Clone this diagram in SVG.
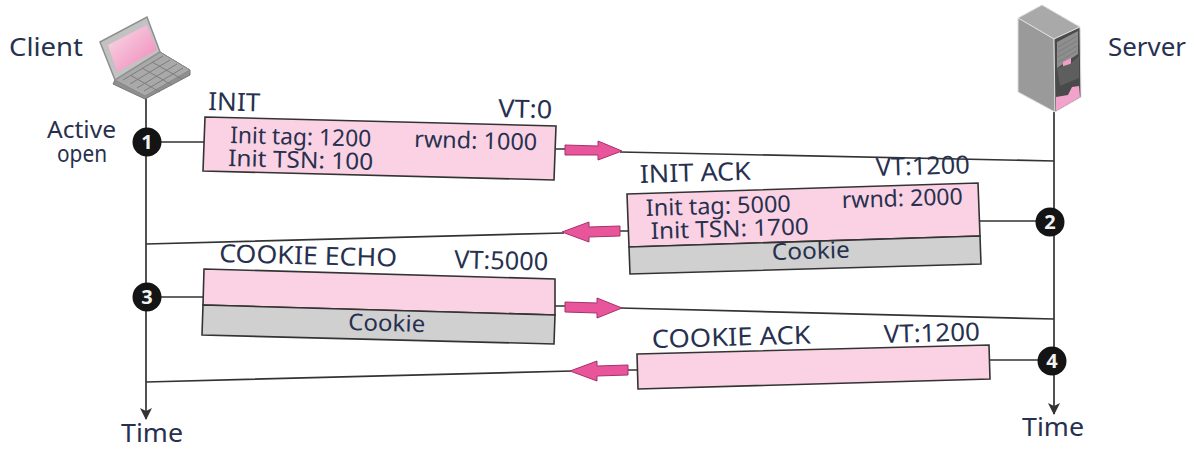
<svg xmlns="http://www.w3.org/2000/svg" width="1198" height="449" viewBox="0 0 1198 449">
<defs>
<linearGradient id="scr" x1="0" y1="0" x2="1" y2="1"><stop offset="0" stop-color="#fbdcea"/><stop offset="1" stop-color="#ee86b6"/></linearGradient>
<marker id="tip" markerWidth="12" markerHeight="18" refX="11" refY="9" orient="auto" markerUnits="userSpaceOnUse"><path d="M0 3 L12 9 L0 15 L3 9 Z" fill="#333"/></marker>
</defs>
<style>
text{font-family:"Noto Sans","Open Sans","Liberation Sans",sans-serif;fill:#27314f}
.lb{font-size:26px}
.md{font-size:25px}
.sm{font-size:23px}
.ln{stroke:#333;stroke-width:1.7;fill:none}
.pk{fill:#fad2e4;stroke:#333;stroke-width:1.6}
.gy{fill:#d0d0d0;stroke:#333;stroke-width:1.6}
.ar{fill:#e8559b;stroke:#a5326b;stroke-width:1}
.dot{fill:#141414}
.num{font-size:20px;font-weight:700;fill:#f2f2f2;text-anchor:middle}
.key{stroke:#7d7d7d;stroke-width:1;fill:none}
</style>
<rect width="1198" height="449" fill="#fff"/>
<g id="connectors">
<path class="ln" d="M146 98V419" marker-end="url(#tip)"/>
<path class="ln" d="M1054 112V414" marker-end="url(#tip)"/>
<path class="ln" d="M146 142H205M556 149H566M620 152L1054 161"/>
<path class="ln" d="M1054 221H978M628 231H618M564 233L146 244"/>
<path class="ln" d="M146 297H204M555 306H566M620 308L1054 319"/>
<path class="ln" d="M1054 360H989M637 370H627M572 371L146 382"/>
<path class="ar" d="M565 145L598 146L598 141L622 151L598 160L598 155L565 155Z"/>
<path class="ar" d="M620 226L589 227L589 222L562 232L589 242L589 237L620 236Z"/>
<path class="ar" d="M565 302L597 303L597 298L622 308L597 318L597 313L565 312Z"/>
<path class="ar" d="M628 365L597 366L597 361L570 371L597 381L597 376L628 375Z"/>
</g>
<g id="client">
<path d="M115 80L160 52L190 70L190 75L145 99L113 84Z" fill="#8f8f8f" stroke="#777"/>
<path d="M115 80L160 52L190 70L145 96Z" fill="#a9a9a9" stroke="#888"/>
<path class="key" d="M123 80L163 56M130 84L170 60M137 88L177 64M144 91L183 68M130 75L160 92M142 68L172 85M152 62L182 79"/>
<path d="M100 42L147 17L160 52L115 80Z" fill="#c2c2c2" stroke="#8f8f8f" stroke-width="1.5"/>
<path d="M108 45L147 25L157 50L117 72Z" fill="url(#scr)"/>
<text class="lb" x="9" y="56" textLength="74" lengthAdjust="spacingAndGlyphs">Client</text>
</g>
<g id="server">
<path d="M1018 18L1042 5L1080 27L1054 39Z" fill="#a9a9a9" stroke="#ddd"/>
<path d="M1018 18L1054 39L1055 112L1018 92Z" fill="#9a9a9a" stroke="#ddd"/>
<path d="M1054 39L1080 27L1081 97L1055 112Z" fill="#4a4a4a" stroke="#ddd"/>
<path d="M1057 42L1078 31L1078 54L1057 68Z" fill="#8e8e8e"/>
<path class="key" d="M1058 47L1077 36M1058 52L1077 41M1058 57L1077 46M1058 62L1077 51"/>
<path d="M1063 62L1071 58L1071 67L1063 71Z" fill="#f0a0c8"/>
<path d="M1057 68L1070 64L1079 56L1079 78L1060 86Z" fill="#5e5e5e"/>
<path d="M1056 102V97L1068 95L1072 87L1079 86L1080 97L1056 111Z" fill="#f3a3cb"/>
<text class="lb" x="1108" y="56" textLength="78" lengthAdjust="spacingAndGlyphs">Server</text>
</g>
<g id="active-open">
<text class="sm" x="47" y="138" textLength="69" lengthAdjust="spacingAndGlyphs">Active</text>
<text class="sm" x="57" y="162" textLength="50" lengthAdjust="spacingAndGlyphs">open</text>
</g>
<g id="step1"><circle class="dot" cx="147" cy="142" r="14.5"/><text class="num" x="147" y="149">1</text></g>
<g id="step2"><circle class="dot" cx="1050" cy="222" r="14.5"/><text class="num" x="1050" y="229">2</text></g>
<g id="step3"><circle class="dot" cx="147" cy="297" r="14.5"/><text class="num" x="147" y="304">3</text></g>
<g id="step4"><circle class="dot" cx="1052" cy="361" r="14.5"/><text class="num" x="1052" y="368">4</text></g>
<g id="init">
<path class="pk" d="M205 117L556 126L554 180L203 171Z"/>
<text class="md" x="208" y="110" transform="rotate(1.5 208 110)" textLength="52" lengthAdjust="spacingAndGlyphs">INIT</text>
<text class="md" x="498" y="117" transform="rotate(1.5 498 117)" textLength="54" lengthAdjust="spacingAndGlyphs">VT:0</text>
<text class="sm" x="230" y="143" transform="rotate(1.5 230 143)" textLength="141" lengthAdjust="spacingAndGlyphs">Init tag: 1200</text>
<text class="sm" x="228" y="166" transform="rotate(1.5 228 166)" textLength="145" lengthAdjust="spacingAndGlyphs">Init TSN: 100</text>
<text class="sm" x="414" y="147" transform="rotate(1.5 414 147)" textLength="123" lengthAdjust="spacingAndGlyphs">rwnd: 1000</text>
</g>
<g id="init-ack">
<path class="pk" d="M627 194L978 183L980 236L629 247Z"/>
<path class="gy" d="M629 247L980 236L981 264L630 274Z"/>
<text class="md" x="640" y="183" transform="rotate(-1.7 640 183)" textLength="111" lengthAdjust="spacingAndGlyphs">INIT ACK</text>
<text class="md" x="876" y="176" transform="rotate(-1.7 876 176)" textLength="94" lengthAdjust="spacingAndGlyphs">VT:1200</text>
<text class="sm" x="646" y="216" transform="rotate(-1.7 646 216)" textLength="145" lengthAdjust="spacingAndGlyphs">Init tag: 5000</text>
<text class="sm" x="651" y="239" transform="rotate(-1.7 651 239)" textLength="158" lengthAdjust="spacingAndGlyphs">Init TSN: 1700</text>
<text class="sm" x="842" y="208" transform="rotate(-1.7 842 208)" textLength="121" lengthAdjust="spacingAndGlyphs">rwnd: 2000</text>
<text class="sm" x="772" y="260" transform="rotate(-1.7 772 260)" textLength="78" lengthAdjust="spacingAndGlyphs">Cookie</text>
</g>
<g id="cookie-echo">
<path class="pk" d="M204 269L555 279L555 315L203 305Z"/>
<path class="gy" d="M203 305L555 315L554 344L202 335Z"/>
<text class="md" x="219" y="262" transform="rotate(1.5 219 262)" textLength="178" lengthAdjust="spacingAndGlyphs">COOKIE ECHO</text>
<text class="md" x="454" y="268" transform="rotate(1.5 454 268)" textLength="94" lengthAdjust="spacingAndGlyphs">VT:5000</text>
<text class="sm" x="348" y="330" transform="rotate(1.5 348 330)" textLength="77" lengthAdjust="spacingAndGlyphs">Cookie</text>
</g>
<g id="cookie-ack">
<path class="pk" d="M637 354L989 345L990 379L638 389Z"/>
<text class="md" x="652" y="348" transform="rotate(-1.6 652 348)" textLength="159" lengthAdjust="spacingAndGlyphs">COOKIE ACK</text>
<text class="md" x="884" y="343" transform="rotate(-1.6 884 343)" textLength="96" lengthAdjust="spacingAndGlyphs">VT:1200</text>
</g>
<g id="time-labels">
<text class="lb" x="121" y="442" textLength="62" lengthAdjust="spacingAndGlyphs">Time</text>
<text class="lb" x="1022" y="436" textLength="62" lengthAdjust="spacingAndGlyphs">Time</text>
</g>
</svg>
